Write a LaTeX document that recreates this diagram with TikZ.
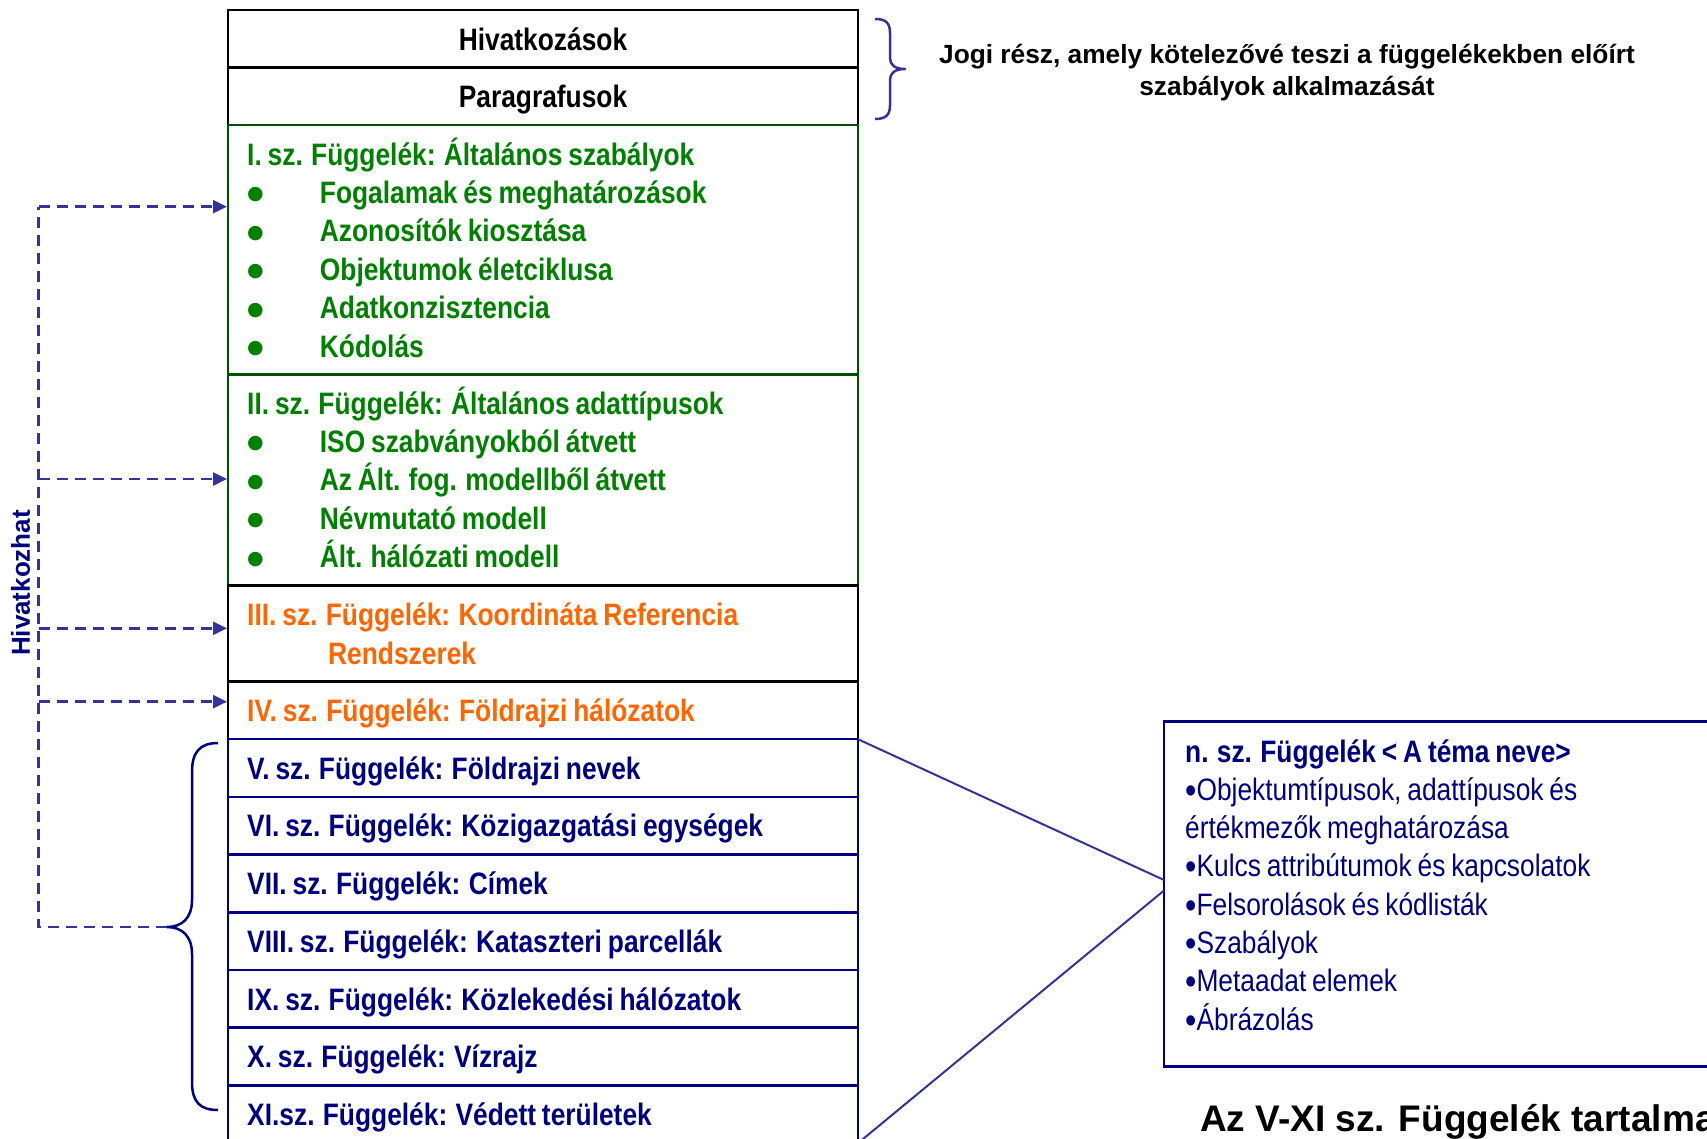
\documentclass[tikz,border=0pt]{standalone}
\usepackage{fontspec}
\setmainfont{Liberation Sans}
\newfontfamily\nar[FakeStretch=0.85,WordSpace=0.8]{Liberation Sans}
\newfontfamily\dvs{DejaVu Sans}
\usetikzlibrary{arrows.meta}
\definecolor{grn}{RGB}{0,128,0}
\definecolor{dgrn}{RGB}{0,80,0}
\definecolor{org}{RGB}{255,102,0}
\definecolor{nvy}{RGB}{0,0,128}
\definecolor{ind}{RGB}{51,51,153}
\newcommand\bigbul[2]{\smash{\raisebox{#2}{\fontsize{#1}{#1}\selectfont •}}}
\newcommand\dotbul{\raisebox{3.5pt}{\dvs\fontsize{19}{20}\selectfont ●}}
\begin{document}
\begin{tikzpicture}[x=1pt,y=-1pt,
  rowbox/.style={rectangle, minimum width=630pt, inner sep=0pt, outer sep=0pt, line width=2.5pt},
  bt/.style={anchor=base west, inner sep=0pt, font=\nar\bfseries\fontsize{31}{36}\selectfont},
  rt/.style={anchor=base west, inner sep=0pt, text=nvy, font=\nar\fontsize{31}{36}\selectfont},
  bul/.style={anchor=base, inner sep=0pt},
  dsh/.style={draw=ind, line width=2.5pt, dash pattern=on 11pt off 7pt},
  arr/.style={-{Triangle[length=14pt,width=13pt]}, shorten >=1pt},
  cn/.style={draw=ind, line width=2pt},
  brc/.style={line width=2.5pt, line join=round}]
\useasboundingbox (0,0) rectangle (1707,1138);
\fill[white] (0,0) rectangle (1707,1138);

% main column rows
\node[rowbox, draw=black, minimum height=57.5pt] (hiv) at (543,38.75) {};
\node[rowbox, draw=black, minimum height=57.5pt] (par) at (543,96.25) {};
\node[rowbox, draw=dgrn, minimum height=249.5pt] (s1) at (543,249.75) {};
\node[rowbox, draw=dgrn, minimum height=211.2pt] (s2) at (543,480.1) {};
\node[rowbox, draw=black, minimum height=95.8pt] (s3) at (543,633.6) {};
\node[rowbox, draw=black, minimum height=57.7pt] (s4) at (543,710.35) {};
\node[rowbox, draw=nvy, minimum height=57.7pt] (r5) at (543,768.05) {};
\node[rowbox, draw=nvy, minimum height=57.7pt] (r6) at (543,825.75) {};
\node[rowbox, draw=nvy, minimum height=57.7pt] (r7) at (543,883.45) {};
\node[rowbox, draw=nvy, minimum height=57.7pt] (r8) at (543,941.15) {};
\node[rowbox, draw=nvy, minimum height=57.7pt] (r9) at (543,998.85) {};
\node[rowbox, draw=nvy, minimum height=57.7pt] (r10) at (543,1056.55) {};
\node[rowbox, draw=nvy, minimum height=57.7pt] (r11) at (543,1114.25) {};

% texts in main column
\node[bt, anchor=base] (thiv) at (543,50) {Hivatkozások};
\node[bt, anchor=base] (tpar) at (543,107.5) {Paragrafusok};

\node[bt, text=grn] (s1h) at (247,165) {I. sz. Függelék: Általános szabályok};
\foreach \t [count=\n] in {Fogalamak és meghatározások, Azonosítók kiosztása, Objektumok életciklusa, Adatkonzisztencia, Kódolás}{
  \node[bul, text=grn] (s1b\n) at (255.5,165+38.4*\n) {\dotbul};
  \node[bt, text=grn] (s1i\n) at (319.7,165+38.4*\n) {\t};
}
\node[bt, text=grn] (s2h) at (247,414) {II. sz. Függelék: Általános adattípusok};
\foreach \t [count=\n] in {ISO szabványokból átvett, Az Ált. fog. modellből átvett, Névmutató modell, Ált. hálózati modell}{
  \node[bul, text=grn] (s2b\n) at (255.5,414+38.4*\n) {\dotbul};
  \node[bt, text=grn] (s2i\n) at (319.7,414+38.4*\n) {\t};
}
\node[bt, text=org] (s3h) at (247,625.7) {III. sz. Függelék: Koordináta Referencia};
\node[bt, text=org] (s3h2) at (328,664.1) {Rendszerek};
\node[bt, text=org] (s4h) at (247,721) {IV. sz. Függelék: Földrajzi hálózatok};

\node[bt, text=nvy] (t5) at (247,779.2) {V. sz. Függelék: Földrajzi nevek};
\node[bt, text=nvy] (t6) at (247,836.9) {VI. sz. Függelék: Közigazgatási egységek};
\node[bt, text=nvy] (t7) at (247,894.6) {VII. sz. Függelék: Címek};
\node[bt, text=nvy] (t8) at (247,952.3) {VIII. sz. Függelék: Kataszteri parcellák};
\node[bt, text=nvy] (t9) at (247,1010) {IX. sz. Függelék: Közlekedési hálózatok};
\node[bt, text=nvy] (t10) at (247,1067.7) {X. sz. Függelék: Vízrajz};
\node[bt, text=nvy] (t11) at (247,1125.4) {XI.sz. Függelék: Védett területek};

% top-right brace and text
\coordinate (tb1) at (875,19);
\coordinate (tbt) at (905,69);
\coordinate (tb2) at (875,119);
\draw[brc, draw=ind] (tb1) .. controls (886,19) and (890,23) .. (890,33) -- (890,58)
  .. controls (890,65) and (895,69) .. (tbt)
  .. controls (895,69) and (890,73) .. (890,80) -- (890,105)
  .. controls (890,115) and (886,119) .. (tb2);
\node[anchor=base, inner sep=0pt, font=\bfseries\fontsize{26.3}{30}\selectfont] (jog1) at (1287,63) {Jogi rész, amely kötelezővé teszi a függelékekben előírt};
\node[anchor=base, inner sep=0pt, font=\bfseries\fontsize{26.3}{30}\selectfont] (jog2) at (1287,95) {szabályok alkalmazását};

% left brace
\coordinate (lb1) at (218,743);
\coordinate (lbt) at (167,927);
\coordinate (lb2) at (218,1110);
\draw[brc, draw=nvy] (lb1) .. controls (200,743) and (192,752) .. (192,772) -- (192,900)
  .. controls (192,918) and (182,927) .. (lbt)
  .. controls (182,927) and (192,936) .. (192,954) -- (192,1082)
  .. controls (192,1102) and (200,1110) .. (lb2);

% dashed reference arrows
\coordinate (tT) at (38.5,206.7);
\coordinate (tB) at (38.5,927);
\coordinate (a2) at (38.5,479);
\coordinate (a3) at (38.5,628.3);
\coordinate (a4) at (38.5,701.7);
\draw[dsh] (lbt) -- (tB) -- (tT);
\draw[dsh, arr] (tT) -- (s1.west |- tT);
\draw[dsh, arr] (a2) -- (s2.west |- a2);
\draw[dsh, arr] (a3) -- (s3.west |- a3);
\draw[dsh, arr] (a4) -- (s4.west |- a4);
\node[rotate=90, inner sep=0pt, text=nvy, font=\bfseries\fontsize{26}{30}\selectfont] (hl) at (20.7,583) {Hivatkozhat};

% right detail box
\node[draw=nvy, line width=2.5pt, rectangle, minimum width=556pt, minimum height=345pt, inner sep=0pt, outer sep=0pt, anchor=north west] (rb) at (1164,721.7) {};
\coordinate (c1) at (1164,880);
\coordinate (c2) at (1164,890.5);
\draw[cn] (r5.north east) -- (c1);
\draw[cn] (r11.south east) -- (c2);

\node[rt, font=\nar\bfseries\fontsize{31}{36}\selectfont] (rt0) at (1185,762) {n. sz. Függelék < A téma neve>};
\node[rt] (rt1) at (1185,800.3) {\bigbul{38}{-3pt}Objektumtípusok, adattípusok és};
\node[rt] (rt2) at (1185,838.6) {értékmezők meghatározása};
\node[rt] (rt3) at (1185,876.9) {\bigbul{38}{-3pt}Kulcs attribútumok és kapcsolatok};
\node[rt] (rt4) at (1185,915.2) {\bigbul{38}{-3pt}Felsorolások és kódlisták};
\node[rt] (rt5) at (1185,953.5) {\bigbul{38}{-3pt}Szabályok};
\node[rt] (rt6) at (1185,991.8) {\bigbul{38}{-3pt}Metaadat elemek};
\node[rt] (rt7) at (1185,1030.1) {\bigbul{38}{-3pt}Ábrázolás};

\node[anchor=base west, inner sep=0pt, font=\bfseries\fontsize{37}{44}\selectfont] (foot) at (1200,1131) {Az V-XI sz. Függelék tartalma};
\end{tikzpicture}
\end{document}
